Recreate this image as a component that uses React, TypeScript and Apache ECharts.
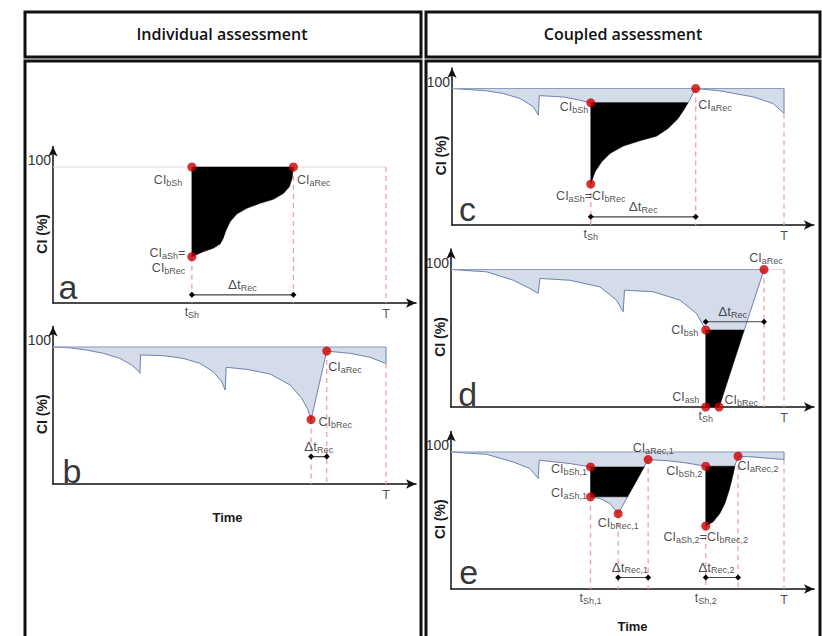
import React, { useEffect, useRef } from 'react';
import * as echarts from 'echarts';

const FONT = 'Liberation Sans, Arial, sans-serif';
const T_END = 10;
const X_MAX = 10.9;
const Y_MAX = 115;

// ---------------- Panel a (individual, single shock) ----------------
const aShock = [4.17, 100];
const aAfterShock = [4.17, 34];
const aRecEnd = [7.22, 100];
const aRecovery = [[4.17, 34], [4.51, 37.7], [4.81, 40.2], [5.02, 43.4], [5.11, 47.5], [5.2, 53.7], [5.32, 59.8], [5.52, 65.4], [5.82, 69.6], [6.22, 73.3], [6.62, 76.2], [6.92, 80.6], [7.1, 85.5], [7.18, 91.7], [7.22, 100]];
const aBracket = [[4.17, 6], [7.22, 6]];

// ---------------- Panel b (individual, ageing) ----------------
const bCurve = [[0, 100], [0.5, 99.4], [1.0, 97.8], [1.51, 95.4], [2.01, 91.7], [2.36, 86.9], [2.56, 82.7], [2.61, 80.8],
  [2.63, 94.2], [3.31, 93.7], [3.91, 91.7], [4.41, 88.1], [4.81, 82], [5.07, 74.7], [5.17, 68.6],
  [5.2, 85.2], [5.82, 83.7], [6.52, 80.3], [7.12, 72.3], [7.47, 62.6], [7.65, 54.5], [7.75, 47],
  [8.22, 97], [8.92, 95.4], [9.52, 92.5], [10, 88]];
const bRecStart = [7.75, 47];
const bRecEnd = [8.22, 97];
const bEnd = [10, 88];
const bBracket = [[7.75, 20], [8.22, 20]];

// ---------------- Panel c (coupled, single shock) ----------------
const cCurve = [[0, 100], [1.05, 98.3], [1.55, 96.3], [2.05, 92.7], [2.45, 86.6], [2.6, 80.5],
  [2.63, 94.8], [3.36, 93.8], [3.76, 91.9], [4.18, 89.5],
  [7.11, 89.5], [7.34, 100], [8.07, 98.3], [9.07, 93.9], [9.67, 89], [10, 81.7]];
const cBeforeShock = [4.18, 89.5];
const cAfterShock = [4.18, 30];
const cRecEnd = [7.34, 100];
const cRecovery = [[4.18, 30], [4.31, 39], [4.51, 46.3], [4.76, 52.4], [5.16, 57.8], [5.66, 61.7], [6.16, 65.1], [6.51, 70.7], [6.81, 78], [7.01, 85.4], [7.11, 89.5]];
const cEnd = [10, 81.7];
const cBracket = [[4.18, 6], [7.34, 6]];

// ---------------- Panel d (coupled, total failure) ----------------
const dCurve = [[0, 100], [1.07, 98.3], [1.87, 92.2], [2.37, 86.2], [2.62, 82.6],
  [2.67, 93.5], [3.57, 92.2], [4.47, 87.4], [4.97, 77.8], [5.17, 69.3],
  [5.21, 85], [6.07, 83.8], [6.87, 77.8], [7.37, 68.1], [7.65, 56]];
const dBeforeShock = [7.65, 56];
const dAfterShock = [7.65, 0];
const dRecStart = [8.05, 0];
const dRecEnd = [9.4, 100];
const dBlackTopRight = [8.8, 56];
const dBracket = [[7.65, 62], [9.4, 62]];

// ---------------- Panel e (coupled, two shocks) ----------------
const eCurve1 = [[0, 100], [1.07, 98.3], [1.87, 92.7], [2.37, 87.9], [2.62, 80.7], [2.65, 94], [3.57, 91.6], [4.19, 89.1]];
const eDecay1 = [[4.19, 67.3], [4.47, 66.1], [4.77, 62.5], [5.02, 55]];
const eBlack1Corners = [[5.3, 67.3], [5.8, 89.1]];
const eRecEnd1 = [5.92, 94.5];
const eCurve2 = [[5.92, 94.5], [6.57, 93.5], [7.07, 92], [7.65, 89.6]];
const eRecovery2 = [[7.65, 46], [7.87, 49.1], [8.07, 55.2], [8.22, 62.5], [8.35, 72.2], [8.45, 81.8], [8.52, 89.6]];
const eRecEnd2 = [8.62, 96.9];
const eCurve3 = [[8.62, 96.9], [9.07, 96.4], [10, 94.5]];
const eBracket1 = [[5.02, 8.4], [5.92, 8.4]];
const eBracket2 = [[7.65, 8.4], [8.62, 8.4]];

// pixel geometry of each panel (origin, T and the 100 level)
const PANELS = [
  { x0: 53, xT: 386, y0: 303, y100: 167 },
  { x0: 53, xT: 386, y0: 484, y100: 347 },
  { x0: 452, xT: 784, y0: 225, y100: 88.5 },
  { x0: 451, xT: 784, y0: 407, y100: 269.5 },
  { x0: 451, xT: 784, y0: 589, y100: 452 },
];

const BLUE_FILL = '#d4dbe9';
const BLUE_LINE = '#6e84b3';
const TOP_LINE = '#8d9dc0';
const RED = '#cc0000';
const DASH = '#f2a0a0';
const TXT = '#1a1a1a';

const RICH: any = {
  n: { fontSize: 12.5, fontFamily: FONT, color: TXT, lineHeight: 15 },
  s: { fontSize: 9, fontFamily: FONT, color: TXT, lineHeight: 8, verticalAlign: 'bottom' },
  d: { fontSize: 13.5, fontFamily: FONT, color: TXT, lineHeight: 15 },
  L: { fontSize: 34, fontFamily: FONT, color: '#000', lineHeight: 36 },
};

const ci = (sub: string) => `{n|CI}{s|${sub}}`;

function buildOption() {
  const grid = PANELS.map((p) => {
    const h = ((p.y0 - p.y100) * Y_MAX) / 100;
    return { left: p.x0, top: p.y0 - h, width: ((p.xT - p.x0) * X_MAX) / T_END, height: h, outerBoundsMode: 'none', containLabel: false };
  });
  const axisLine = { show: true, onZero: false, symbol: ['none', 'arrow'], symbolSize: [7, 10], lineStyle: { color: '#111', width: 1.5 } };
  const xAxis = PANELS.map((_p, i) => {
    const base: any = { gridIndex: i, type: 'value', min: 0, max: X_MAX, axisLine, axisTick: { show: false }, axisLabel: { show: false }, splitLine: { show: false }, nameMoveOverlap: false };
    if (i === 1 || i === 4) {
      base.name = 'Time';
      base.nameLocation = 'middle';
      base.nameGap = i === 1 ? 27 : 31;
      base.nameTextStyle = { fontFamily: FONT, fontWeight: 'bold', fontSize: 13, color: TXT, padding: i === 1 ? [0, 14, 0, 0] : [0, 0, 0, 0] };
    }
    return base;
  });
  const yAxis = PANELS.map((_p, i) => ({
    gridIndex: i, type: 'value', min: 0, max: Y_MAX, interval: 100, axisLine,
    axisTick: { show: false }, splitLine: { show: false },
    axisLabel: { formatter: (v: number) => (v === 100 ? '100' : ''), verticalAlign: 'bottom', margin: 2, fontSize: 14, fontFamily: FONT, color: '#333' },
    name: 'CI (%)', nameLocation: 'middle', nameRotate: 90, nameGap: 4, nameMoveOverlap: false,
    nameTextStyle: { fontFamily: FONT, fontWeight: 'bold', fontSize: 14, color: TXT, padding: [0, 18, 0, 0] },
  }));

  const S: any[] = [];
  const poly = (g: number, pts: number[][], fill: string, z = 1) =>
    S.push({
      type: 'custom', coordinateSystem: 'cartesian2d', xAxisIndex: g, yAxisIndex: g, z, silent: true, clip: false,
      data: [pts[0]],
      renderItem: (_p: any, api: any) => ({ type: 'polygon', shape: { points: pts.map((q) => api.coord(q)) }, style: { fill, stroke: fill, lineWidth: 0.5 } }),
    });
  const ln = (g: number, pts: number[][], color: string, width = 1, z = 2, type: any = 'solid') =>
    S.push({ type: 'line', xAxisIndex: g, yAxisIndex: g, data: pts, symbol: 'none', silent: true, z, lineStyle: { color, width, type } });
  const dashed = (g: number, tops: number[][]) => tops.forEach((t) => ln(g, [t, [t[0], 0]], DASH, 1.3, 3, [5, 4]));
  const bracket = (g: number, pts: number[][]) =>
    S.push({ type: 'line', xAxisIndex: g, yAxisIndex: g, data: pts, symbol: 'diamond', symbolSize: 6, showSymbol: true, silent: true, z: 6, itemStyle: { color: '#000' }, lineStyle: { color: '#444', width: 1.2 } });
  const item = (value: number[], formatter: string, position: string, distance = 2, offset = [0, 0]) => ({ value, label: { show: true, formatter, position, distance, offset } });
  const dots = (g: number, items: any[]) =>
    S.push({ type: 'scatter', xAxisIndex: g, yAxisIndex: g, symbolSize: 9, itemStyle: { color: RED }, z: 10, silent: true, label: { show: true, rich: RICH, color: TXT }, data: items });
  const texts = (g: number, items: any[]) =>
    S.push({ type: 'scatter', xAxisIndex: g, yAxisIndex: g, symbolSize: 1, itemStyle: { color: 'rgba(0,0,0,0)' }, z: 9, silent: true, clip: false, label: { show: true, rich: RICH, color: TXT }, data: items });
  const tLab = (t: number, sub: string) => item([t, 0], sub ? `{n|t}{s|${sub}}` : '{n|T}', 'bottom', sub ? 1 : 3);
  const dtLab = (pt: number[], sub: string) => item(pt, `{d|Δt}{s|${sub}}`, 'top', 2);
  const letter = (pt: number[], ch: string) => item(pt, `{L|${ch}}`, 'inside', 0);

  // ---- a ----
  ln(0, [[0, 100], [T_END, 100]], '#dedede', 1, 1);
  poly(0, [aShock, ...aRecovery], '#000', 4);
  dashed(0, [aAfterShock, aRecEnd, [T_END, 100]]);
  bracket(0, aBracket);
  dots(0, [
    item(aShock, ci('bSh'), 'left', 5, [0, 13]),
    item(aRecEnd, ci('aRec'), 'right', 0, [-1, 13]),
    item(aAfterShock, `{n|CI}{s|aSh}{n|=}\n{n|CI}{s|bRec}`, 'left', 2, [0, 4]),
  ]);
  texts(0, [tLab(aShock[0], 'Sh'), tLab(T_END, ''), dtLab([5.69, 6], 'Rec'), letter([0.45, 11.8], 'a')]);

  // ---- b ----
  poly(1, [[0, 100], ...bCurve, [T_END, 100]], BLUE_FILL, 1);
  ln(1, bCurve, BLUE_LINE, 1, 2);
  ln(1, [bEnd, [T_END, 100]], BLUE_LINE, 1, 2);
  ln(1, [[0, 100], [T_END, 100]], TOP_LINE, 1, 2);
  dashed(1, [bRecStart, bRecEnd, bEnd]);
  bracket(1, bBracket);
  dots(1, [item(bRecStart, ci('bRec'), 'right', 3, [0, 2]), item(bRecEnd, ci('aRec'), 'right', 0, [-3, 16])]);
  texts(1, [tLab(T_END, ''), dtLab([7.98, 20], 'Rec'), letter([0.57, 9.7], 'b')]);

  // ---- c ----
  poly(2, [[0, 100], ...cCurve, [T_END, 100]], BLUE_FILL, 1);
  ln(2, cCurve, BLUE_LINE, 1, 2);
  ln(2, [cEnd, [T_END, 100]], BLUE_LINE, 1, 2);
  ln(2, [[0, 100], [T_END, 100]], TOP_LINE, 1, 2);
  poly(2, [cBeforeShock, ...cRecovery], '#000', 4);
  dashed(2, [cAfterShock, cRecEnd, cEnd]);
  bracket(2, cBracket);
  dots(2, [
    item(cBeforeShock, ci('bSh'), 'left', 0, [2, 4]),
    item(cRecEnd, ci('aRec'), 'right', 0, [-2, 16]),
    item(cAfterShock, `{n|CI}{s|aSh}{n|=CI}{s|bRec}`, 'bottom', 0),
  ]);
  texts(2, [tLab(cBeforeShock[0], 'Sh'), tLab(T_END, ''), dtLab([5.76, 6], 'Rec'), letter([0.47, 11.4], 'c')]);

  // ---- d ----
  poly(3, [[0, 100], ...dCurve, dBlackTopRight, dRecEnd], BLUE_FILL, 1);
  ln(3, dCurve, BLUE_LINE, 1, 2);
  ln(3, [dRecStart, dRecEnd], BLUE_LINE, 1, 2);
  ln(3, [[0, 100], dRecEnd], TOP_LINE, 1, 2);
  ln(3, [dRecEnd, [T_END, 100]], '#dedede', 1, 2);
  poly(3, [dBeforeShock, dAfterShock, dRecStart, dBlackTopRight], '#000', 4);
  dashed(3, [dRecEnd, [T_END, 100]]);
  bracket(3, dBracket);
  dots(3, [
    item(dRecEnd, ci('aRec'), 'top', 0, [2, 0]),
    item(dBeforeShock, ci('bsh'), 'left', 3),
    item(dAfterShock, ci('ash'), 'left', 2, [0, -10]),
    item(dRecStart, ci('bRec'), 'right', 1, [0, -7]),
  ]);
  texts(3, [tLab(dBeforeShock[0], 'Sh'), tLab(T_END, ''), dtLab([8.46, 62], 'Rec'), letter([0.5, 9.1], 'd')]);

  // ---- e ----
  const eBSh1 = eCurve1[eCurve1.length - 1];
  const eASh1 = eDecay1[0];
  const eBRec1 = eDecay1[eDecay1.length - 1];
  const eBSh2 = eCurve2[eCurve2.length - 1];
  const eASh2 = eRecovery2[0];
  const eTop2 = eRecovery2[eRecovery2.length - 1];
  const eEnd = eCurve3[eCurve3.length - 1];
  poly(4, [[0, 100], ...eCurve1, eBlack1Corners[1], ...eCurve2, eTop2, ...eCurve3, [T_END, 100]], BLUE_FILL, 1);
  poly(4, [...eDecay1, eBlack1Corners[0]], BLUE_FILL, 1);
  ln(4, eCurve1, BLUE_LINE, 1, 2);
  ln(4, [...eDecay1, eRecEnd1], BLUE_LINE, 1, 2);
  ln(4, eCurve2, BLUE_LINE, 1, 2);
  ln(4, [...eRecovery2, ...eCurve3], BLUE_LINE, 1, 2);
  ln(4, [eEnd, [T_END, 100]], BLUE_LINE, 1, 2);
  ln(4, [[0, 100], [T_END, 100]], TOP_LINE, 1, 2);
  poly(4, [eBSh1, eASh1, eBlack1Corners[0], eBlack1Corners[1]], '#000', 4);
  poly(4, [eBSh2, ...eRecovery2], '#000', 4);
  dashed(4, [eASh1, eBRec1, eRecEnd1, eASh2, eRecEnd2, eEnd]);
  bracket(4, eBracket1);
  bracket(4, eBracket2);
  dots(4, [
    item(eRecEnd1, ci('aRec,1'), 'top', 0, [5, 0]),
    item(eBSh1, ci('bSh,1'), 'left', 0, [1, 2]),
    item(eASh1, ci('aSh,1'), 'left', 0, [1, -4]),
    item(eBRec1, ci('bRec,1'), 'bottom', -3),
    item(eBSh2, ci('bSh,2'), 'left', 0, [1, 5]),
    item(eRecEnd2, ci('aRec,2'), 'right', 0, [-5, 10]),
    item(eASh2, `{n|CI}{s|aSh,2}{n|=CI}{s|bRec,2}`, 'bottom', -1),
  ]);
  texts(4, [tLab(eBSh1[0], 'Sh,1'), tLab(eBSh2[0], 'Sh,2'), tLab(T_END, ''), dtLab([5.37, 8.4], 'Rec,1'), dtLab([7.97, 8.4], 'Rec,2'), letter([0.53, 12.4], 'e')]);

  const frame = (x: number, y: number, w: number, h: number) => ({ type: 'rect', shape: { x, y, width: w, height: h }, style: { fill: 'none', stroke: '#111', lineWidth: 3 }, z: 100, silent: true });
  const head = (x: number, text: string) => ({ type: 'text', x, y: 34, z: 100, silent: true, style: { text, fontFamily: 'Open Sans, Noto Sans, sans-serif', fontWeight: 600, fontSize: 16, fill: '#111', align: 'center', verticalAlign: 'middle', textAlign: 'center', textVerticalAlign: 'middle' } });

  return {
    animation: false,
    backgroundColor: '#fff',
    grid, xAxis, yAxis, series: S,
    graphic: [
      frame(25, 12, 396, 45), frame(426, 12, 394, 45),
      frame(25, 61, 396, 700), frame(426, 61, 394, 700),
      head(222, 'Individual assessment'), head(623, 'Coupled assessment'),
    ],
  };
}

export default function App() {
  const ref = useRef<HTMLDivElement>(null);
  useEffect(() => {
    const chart = echarts.init(ref.current as HTMLDivElement, null, { renderer: 'svg' });
    chart.setOption(buildOption() as any);
    return () => chart.dispose();
  }, []);
  return <div ref={ref} style={{ position: 'fixed', left: 0, top: 0, width: 822, height: 636, background: '#fff' }} />;
}
